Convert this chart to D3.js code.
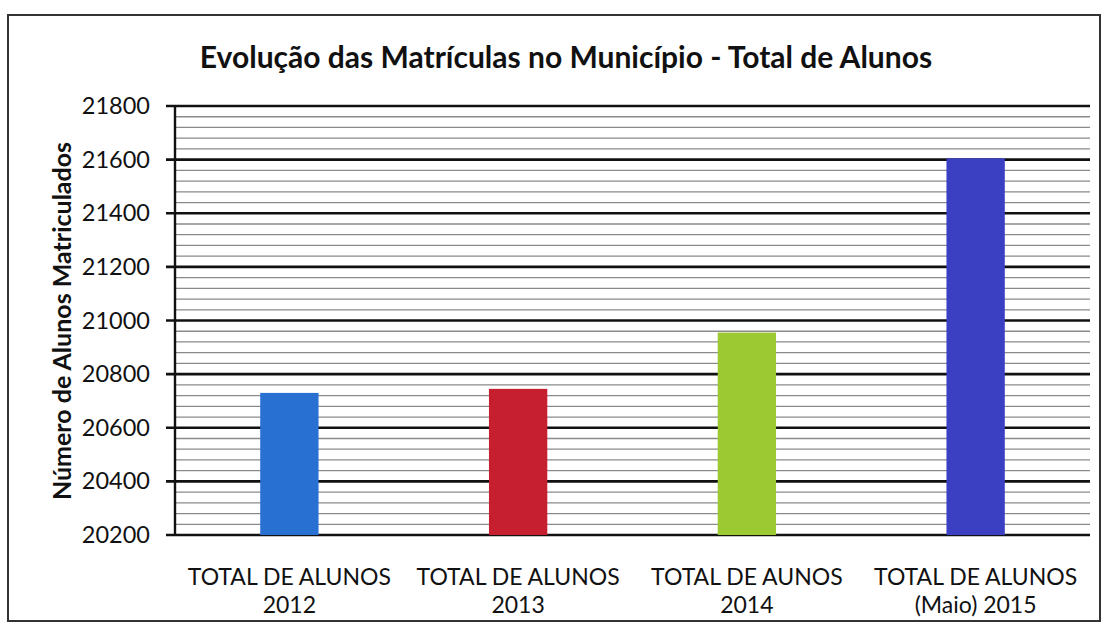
<!DOCTYPE html>
<html>
<head>
  <meta charset="utf-8">
  <title>Evolução das Matrículas no Município - Total de Alunos</title>
  <script src="https://d3js.org/d3.v7.min.js"></script>
  <style>
    body {
      margin: 0;
      background: #fff;
      font-family: Lato, "Open Sans", sans-serif;
    }
  </style>
</head>
<body>
<svg id="chart" width="1104" height="624"></svg>

<script>
  // Données
  const categories = ["2012", "2013", "2014", "(Maio) 2015"];
  const lineOne = ["TOTAL DE ALUNOS", "TOTAL DE ALUNOS", "TOTAL DE AUNOS", "TOTAL DE ALUNOS"];
  const values = [20730, 20745, 20955, 21605];
  const barColors = ["#2870d2", "#c61f30", "#9cc832", "#3b40c2"];
  const yTicks = [20200, 20400, 20600, 20800, 21000, 21200, 21400, 21600, 21800];
  const minorStep = 40;

  const margin = { top: 106, right: 14, bottom: 89, left: 175 },
        width = 1104 - margin.left - margin.right,
        height = 624 - margin.top - margin.bottom;

  const root = d3.select("#chart");

  // cadre extérieur
  root.append("rect")
      .attr("x", 8).attr("y", 15)
      .attr("width", 1092).attr("height", 606)
      .attr("fill", "#fff")
      .attr("stroke", "#333")
      .attr("stroke-width", 2);

  root.append("text")
      .attr("x", 566).attr("y", 68)
      .attr("text-anchor", "middle")
      .attr("font-size", 30)
      .attr("font-weight", "bold")
      .attr("fill", "#111")
      .text("Evolução das Matrículas no Município - Total de Alunos");

  const svg = root.append("g")
      .attr("transform", `translate(${margin.left},${margin.top})`);

  const x = d3.scaleBand().domain(categories).range([0, width]).padding(0);
  const y = d3.scaleLinear().domain([20200, 21800]).range([height, 0]);

  // lignes secondaires
  const minor = d3.range(20200, 21800 + 1, minorStep).filter(v => !yTicks.includes(v));
  svg.selectAll(".minor")
      .data(minor)
      .enter().append("line")
      .attr("class", "minor")
      .attr("x1", 0).attr("x2", width)
      .attr("y1", d => y(d)).attr("y2", d => y(d))
      .attr("stroke", "#8a8a8a")
      .attr("stroke-width", 1.3);

  // lignes principales
  svg.selectAll(".major")
      .data(yTicks)
      .enter().append("line")
      .attr("class", "major")
      .attr("x1", -9).attr("x2", width)
      .attr("y1", d => y(d)).attr("y2", d => y(d))
      .attr("stroke", "#111")
      .attr("stroke-width", 2.6);

  // barres
  const barFrac = 0.255;
  svg.selectAll(".bar")
      .data(values)
      .enter().append("rect")
      .attr("class", "bar")
      .attr("x", (d, i) => x(categories[i]) + x.bandwidth() * (1 - barFrac) / 2)
      .attr("width", x.bandwidth() * barFrac)
      .attr("y", d => y(d))
      .attr("height", d => height - y(d))
      .attr("fill", (d, i) => barColors[i]);

  // axe Y
  const yAxis = svg.append("g")
      .call(d3.axisLeft(y).tickValues(yTicks).tickSize(0).tickPadding(25).tickFormat(d3.format("d")));
  yAxis.select(".domain").remove();
  yAxis.selectAll("text")
      .attr("font-family", "Lato, 'Open Sans', sans-serif")
      .attr("font-size", 23.5)
      .attr("fill", "#111");

  svg.append("line")
      .attr("x1", 0).attr("x2", 0)
      .attr("y1", 0).attr("y2", height)
      .attr("stroke", "#111")
      .attr("stroke-width", 2.4);

  // étiquettes X
  const xl = svg.selectAll(".xlab")
      .data(categories)
      .enter().append("text")
      .attr("class", "xlab")
      .attr("text-anchor", "middle")
      .attr("font-size", 23)
      .attr("fill", "#111")
      .attr("transform", d => `translate(${x(d) + x.bandwidth() / 2},${height + 50})`);
  xl.append("tspan").attr("x", 0).attr("dy", 0).text((d, i) => lineOne[i]);
  xl.append("tspan").attr("x", 0).attr("dy", 28).text(d => d);

  // titre axe Y
  root.append("text")
      .attr("transform", `translate(71,321) rotate(-90)`)
      .attr("text-anchor", "middle")
      .attr("font-size", 25)
      .attr("font-weight", "bold")
      .attr("fill", "#111")
      .text("Número de Alunos Matriculados");
</script>
</body>
</html>
